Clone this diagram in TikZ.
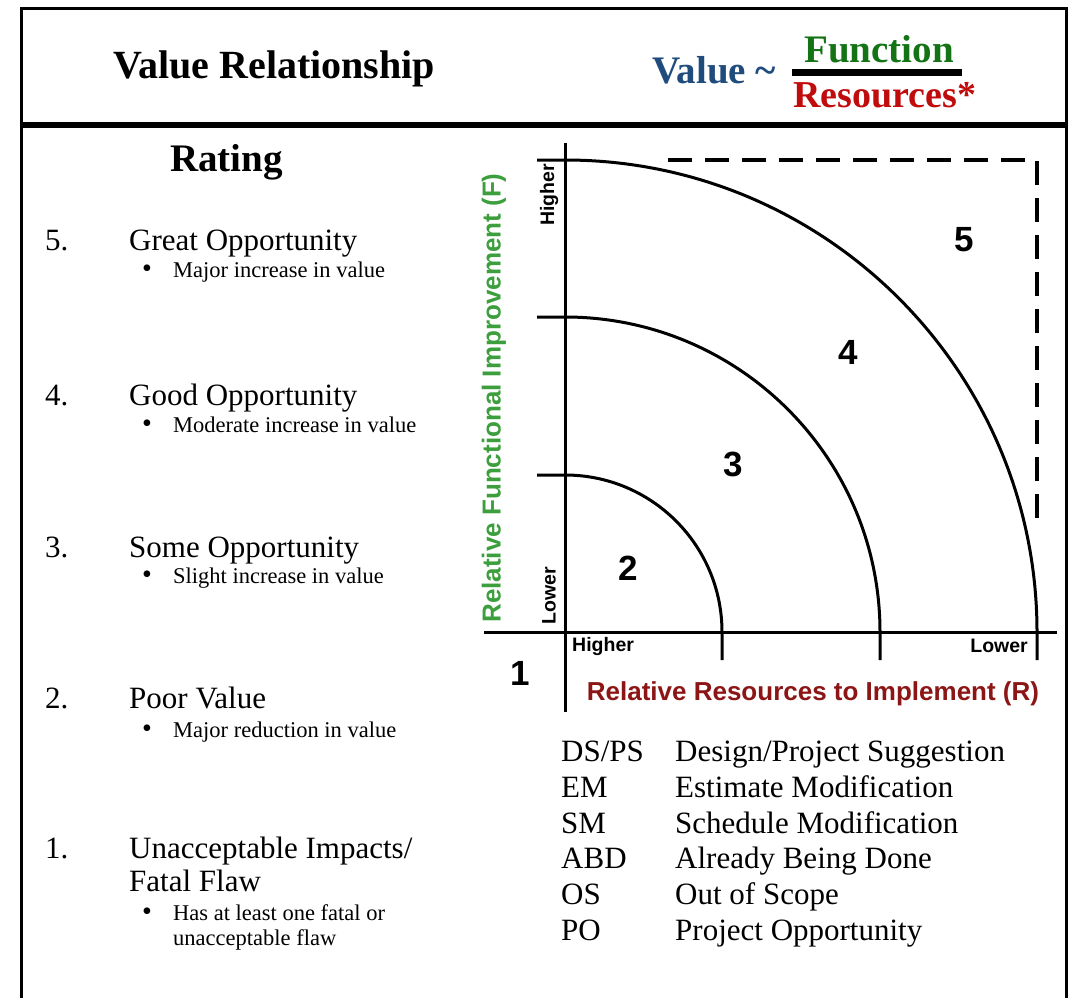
\documentclass[tikz,border=0pt]{standalone}
\usepackage{fontspec}
\setmainfont{Liberation Serif}
\setsansfont{Liberation Sans}
\usepackage{xcolor}
\usepackage{tikz}
\usetikzlibrary{positioning}
\definecolor{valblue}{RGB}{31,75,125}
\definecolor{fungreen}{RGB}{20,115,20}
\definecolor{resred}{RGB}{192,12,12}
\definecolor{axgreen}{RGB}{60,158,60}
\definecolor{axred}{RGB}{140,22,22}
\tikzset{head text/.style={anchor=base west,inner sep=0pt,font=\bfseries\fontsize{39}{46}\selectfont},
         rate head/.style={anchor=base west,inner sep=0pt,font=\fontsize{31}{37}\selectfont},
         rate note/.style={anchor=base west,inner sep=0pt,font=\fontsize{22.5}{27}\selectfont},
         rate dot/.style={anchor=base west,inner sep=0pt,font=\fontsize{28}{30}\selectfont},
         legend item/.style={anchor=base west,inner sep=0pt,font=\fontsize{31}{37}\selectfont},
         zone num/.style={inner sep=0pt,font=\sffamily\bfseries\fontsize{35}{40}\selectfont},
         scale tag/.style={inner sep=0pt,font=\sffamily\bfseries\fontsize{19.5}{23}\selectfont},
         axis title/.style={inner sep=0pt,font=\sffamily\bfseries\fontsize{26}{30}\selectfont},
         chart line/.style={line width=3pt},
         zone edge/.style={line width=4pt,dash pattern=on 24pt off 13pt},
            }
\begin{document}
\begin{tikzpicture}[x=1pt,y=-1pt]

    \useasboundingbox (0,0) rectangle (1076,998);
    \fill[white] (0,0) rectangle (1076,998);

    \draw[line width=3pt] (21.5,1002) -- (21.5,9) -- (1066,9) -- (1066,1002);
    \draw[line width=6pt] (21.5,125) -- (1066,125);

    \node[head text,font=\bfseries\fontsize{40}{48}\selectfont] (title) at (113,78) {Value Relationship};
    \node[head text,text=valblue] (val) at (652,83) {Value \textasciitilde};
    \node[head text,text=fungreen] (fun) at (804,63) {Function};
    \node[head text,text=resred,font=\bfseries\fontsize{38}{46}\selectfont] (res) at (793,107) {Resources*};
    \draw[line width=7pt] (792,73) -- (962,73);

    \node[head text] (rating) at (170,171) {Rating};

    \node[rate head] (k5) at (45,250) {5.};
    \node[rate head] (t5) at (129,250) {Great Opportunity};
    \node[rate dot] (b5) at (142,277) {\textbullet};
    \node[rate note] (n5) at (173,277) {Major increase in value};

    \node[rate head] (k4) at (45,405) {4.};
    \node[rate head] (t4) at (129,405) {Good Opportunity};
    \node[rate dot] (b4) at (142,432) {\textbullet};
    \node[rate note] (n4) at (173,432) {Moderate increase in value};

    \node[rate head] (k3) at (45,557) {3.};
    \node[rate head] (t3) at (129,557) {Some Opportunity};
    \node[rate dot] (b3) at (142,583) {\textbullet};
    \node[rate note] (n3) at (173,583) {Slight increase in value};

    \node[rate head] (k2) at (45,708) {2.};
    \node[rate head] (t2) at (129,708) {Poor Value};
    \node[rate dot] (b2) at (142,737) {\textbullet};
    \node[rate note] (n2) at (173,737) {Major reduction in value};

    \node[rate head] (k1) at (45,858) {1.};
    \node[rate head] (t1) at (129,858) {Unacceptable Impacts/};
    \node[rate head] (t1b) at (129,891) {Fatal Flaw};
    \node[rate dot] (b1) at (142,920) {\textbullet};
    \node[rate note] (n1) at (173,920) {Has at least one fatal or};
    \node[rate note] (n1b) at (173,945) {unacceptable flaw};

    \coordinate (O) at (565,632);
    \draw[chart line] (565,143) -- (565,712);
    \draw[chart line] (484,632) -- (1057,632);
    \draw[chart line] (537,475) -- (565,475) arc[start angle=-90,end angle=0,radius=157] -- (722,660);
    \draw[chart line] (537,317) -- (565,317) arc[start angle=-90,end angle=0,radius=315] -- (880,660);
    \draw[chart line] (537,160) -- (565,160) arc[start angle=-90,end angle=0,radius=472] -- (1037,660);
    \draw[zone edge] (668,160) -- (1037,160) -- (1037,520);

    \node[zone num] (z5) at (964,240) {5};
    \node[zone num] (z4) at (848,352) {4};
    \node[zone num] (z3) at (733,464) {3};
    \node[zone num] (z2) at (628,568) {2};
    \node[zone num] (z1) at (520,673) {1};

    \node[scale tag,rotate=90] (fHigh) at (549,195) {Higher};
    \node[scale tag,rotate=90] (fLow) at (549,596) {Lower};
    \node[scale tag,anchor=west] (rHigh) at (572,646) {Higher};
    \node[scale tag,anchor=east] (rLow) at (1028,646) {Lower};

    \node[axis title,rotate=90,text=axgreen] (fAxis) at (494,398) {Relative Functional Improvement (F)};
    \node[axis title,text=axred] (rAxis) at (813,694) {Relative Resources to Implement (R)};

    \node[legend item] (a1) at (561,761) {DS/PS};
    \node[legend item] (d1) at (675,761) {Design/Project Suggestion};
    \node[legend item] (a2) at (561,797) {EM};
    \node[legend item] (d2) at (675,797) {Estimate Modification};
    \node[legend item] (a3) at (561,833) {SM};
    \node[legend item] (d3) at (675,833) {Schedule Modification};
    \node[legend item] (a4) at (561,868) {ABD};
    \node[legend item] (d4) at (675,868) {Already Being Done};
    \node[legend item] (a5) at (561,904) {OS};
    \node[legend item] (d5) at (675,904) {Out of Scope};
    \node[legend item] (a6) at (561,940) {PO};
    \node[legend item] (d6) at (675,940) {Project Opportunity};

\end{tikzpicture}
\end{document}
